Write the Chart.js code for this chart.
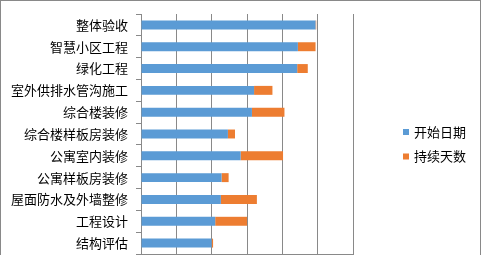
<!DOCTYPE html>
<html>
<head>
<meta charset="utf-8">
<script src="https://cdn.jsdelivr.net/npm/chart.js@4/dist/chart.umd.min.js"></script>
<style>
  html, body { margin: 0; padding: 0; background: #fff; overflow: hidden; }
  #wrap { position: relative; width: 481px; height: 255px; }
  #frame { position: absolute; left: 0; top: 0; width: 479px; height: 300px; border: 1px solid #898989; box-sizing: content-box; }
  #chart { position: absolute; left: 0; top: 0; }
</style>
</head>
<body>
<div id="wrap">
  <div id="frame"></div>
  <canvas id="chart" width="481" height="255"></canvas>
</div>
<script>
// Gantt data (days from project start)
const tasks = ['整体验收', '智慧小区工程', '绿化工程', '室外供排水管沟施工', '综合楼装修', '综合楼样板房装修',
               '公寓室内装修', '公寓样板房装修', '屋面防水及外墙整修', '工程设计', '结构评估'];
const startDay = [247, 222, 221, 160, 157, 123, 141, 114, 113, 105, 100];
const duration = [1, 25, 15, 26, 46, 10, 60, 10, 51, 45, 2];
const seriesNames = ['开始日期', '持续天数'];
const seriesColors = ['#5B9BD5', '#ED7D31'];

const FONT = '"Noto Sans CJK SC", "Noto Sans", sans-serif';
const GRID = '#898989';

// simple legend drawn at the right, like the Excel one
const sideLegend = {
    id: 'sideLegend',
    afterDraw(chart) {
        const ctx = chart.ctx;
        ctx.save();
        ctx.font = '13px ' + FONT;
        ctx.textBaseline = 'middle';
        chart.data.datasets.forEach((ds, i) => {
            const y = 132 + i * 24.5;
            ctx.fillStyle = ds.backgroundColor;
            ctx.fillRect(403, y - 3, 6, 6);
            ctx.fillStyle = '#000';
            ctx.fillText(ds.label, 414, y);
        });
        ctx.restore();
    }
};

new Chart(document.getElementById('chart'), {
    type: 'bar',
    data: {
        labels: tasks,
        datasets: [
            { label: seriesNames[0], data: startDay, backgroundColor: seriesColors[0] },
            { label: seriesNames[1], data: duration, backgroundColor: seriesColors[1] }
        ]
    },
    options: {
        indexAxis: 'y',
        responsive: false,
        animation: false,
        events: [],
        datasets: {
            bar: { barPercentage: 0.41, categoryPercentage: 1 }
        },
        layout: { padding: { left: 0, right: 128, top: 14, bottom: 1 } },
        plugins: {
            legend: { display: false },
            tooltip: { enabled: false }
        },
        scales: {
            x: {
                stacked: true,
                min: 0,
                max: 300,
                ticks: { display: false, stepSize: 50 },
                grid: { color: GRID, drawTicks: false },
                border: { color: GRID },
                afterFit(s) { s.height = 0; }
            },
            y: {
                stacked: true,
                ticks: { color: '#000', font: { family: FONT, size: 13 }, padding: 8, autoSkip: false },
                grid: { drawOnChartArea: false, drawTicks: true, tickLength: 5, color: GRID, offset: true },
                border: { color: GRID },
                afterFit(s) {
                    s.width = 141;
                    s.paddingTop = 0;
                    s.paddingBottom = 0;
                }
            }
        }
    },
    plugins: [sideLegend]
});
</script>
</body>
</html>
